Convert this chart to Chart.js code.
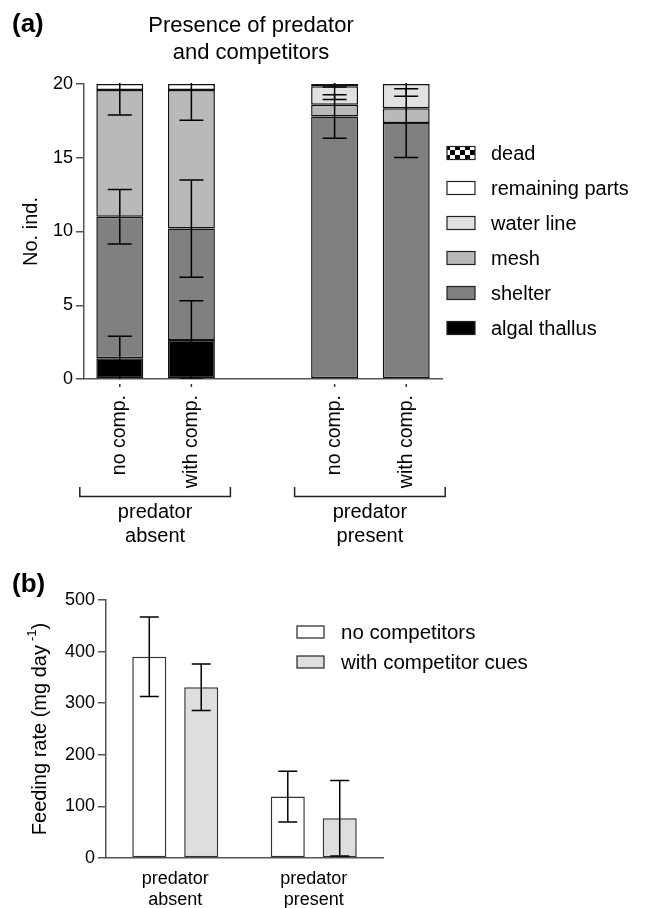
<!DOCTYPE html>
<html>
<head>
<meta charset="utf-8">
<script src="https://cdn.jsdelivr.net/npm/chart.js@4.4.1/dist/chart.umd.min.js"></script>
<style>
  html, body { margin: 0; padding: 0; background: #fff; }
  #wrap { position: relative; width: 648px; height: 908px; }
  #chartA { position: absolute; left: 0; top: 0; }
  #chartB { position: absolute; left: 0; top: 570px; }
</style>
</head>
<body>
<div id="wrap">
  <canvas id="chartA" width="648" height="570" style="width:648px;height:570px"></canvas>
  <canvas id="chartB" width="648" height="338" style="width:648px;height:338px"></canvas>
</div>
<script>
// ---- panel (a): fate of individuals (stacked) ----
const fateLabels = ['no comp.', 'with comp.', '', 'no comp.', 'with comp.'];
const fateGroups = [['predator', 'absent'], ['predator', 'present']];
const fateGroupIdx = [[0, 1], [3, 4]];
const fateTitle = ['Presence of predator', 'and competitors'];
const fateYTitle = 'No. ind.';

const algal = [1.4, 2.65, null, null, null];
const shelter = [9.6, 7.55, null, 17.8, 17.35];
const mesh = [8.6, 9.4, null, 0.8, 1.0];
const waterLine = [null, null, null, 1.25, 1.65];
const remaining = [0.4, 0.4, null, null, null];
const dead = [null, null, null, 0.15, null];

const algalErr = [1.5, 2.65, null, null, null];
const shelterErr = [1.85, 3.3, null, 1.47, 2.33];
const meshErr = [1.7, 2.05, null, null, null];
const waterErr = [null, null, null, 0.9, 0.83];
const remainingErr = [null, null, null, null, null];
const deadErr = [null, null, null, 0.2, null];

// ---- panel (b): feeding rate ----
const feedLabels = [['predator', 'absent'], ['predator', 'present']];
const noComp = [390, 119];
const noCompErr = [77, 49];
const withComp = [331, 77];
const withCompErr = [45, 73];
const feedYTitle = ['Feeding rate (mg day', '-1', ')'];

const FONT = '"Liberation Sans", Arial, Helvetica, sans-serif';

function checker() {
    const c = document.createElement('canvas');
    c.width = 10; c.height = 10;
    const g = c.getContext('2d');
    g.fillStyle = '#fff'; g.fillRect(0, 0, 10, 10);
    g.fillStyle = '#000'; g.fillRect(0, 0, 5, 5); g.fillRect(5, 5, 5, 5);
    return g.createPattern(c, 'repeat');
}
const deadFill = checker();

// error bars drawn at the top of each (stacked) segment, clipped to the plot
const errorBars = {
    id: 'errorBars',
    afterDatasetsDraw(chart, args, opts) {
        const {ctx, chartArea} = chart;
        const y = chart.scales.y;
        ctx.save();
        ctx.beginPath();
        ctx.rect(chartArea.left, chartArea.top - 1, chartArea.right - chartArea.left, chartArea.bottom - chartArea.top + 1);
        ctx.clip();
        ctx.strokeStyle = '#000';
        ctx.lineWidth = 1.5;
        chart.data.datasets.forEach((ds, d) => {
            const meta = chart.getDatasetMeta(d);
            ds.errors.forEach((e, i) => {
                if (!e || ds.data[i] == null) return;
                let top = ds.data[i];
                if (opts.stacked) {
                    top = 0;
                    for (let k = 0; k <= d; k++) top += chart.data.datasets[k].data[i] || 0;
                }
                const x = meta.data[i].x;
                const y1 = y.getPixelForValue(top - e);
                const y2 = y.getPixelForValue(top + e);
                const h = opts.cap / 2;
                ctx.beginPath();
                ctx.moveTo(x, y1); ctx.lineTo(x, y2);
                ctx.moveTo(x - h, y1); ctx.lineTo(x + h, y1);
                ctx.moveTo(x - h, y2); ctx.lineTo(x + h, y2);
                ctx.stroke();
            });
        });
        ctx.restore();
    }
};

function legendBox(ctx, x, yc, w, h, fill) {
    ctx.fillStyle = fill;
    ctx.fillRect(x, yc - h / 2, w, h);
    ctx.strokeStyle = '#222';
    ctx.lineWidth = 1.2;
    ctx.strokeRect(x, yc - h / 2, w, h);
}

const panelA = {
    id: 'panelA',
    afterDraw(chart) {
        const {ctx, chartArea} = chart;
        const x = chart.scales.x;
        ctx.save();
        ctx.fillStyle = '#000';
        ctx.textBaseline = 'alphabetic';
        ctx.textAlign = 'left';
        ctx.font = 'bold 26px ' + FONT;
        ctx.fillText('(a)', 12, 32);

        ctx.textAlign = 'center';
        ctx.font = '22px ' + FONT;
        fateTitle.forEach((t, k) => ctx.fillText(t, 251, 32 + k * 27));

        ctx.save();
        ctx.translate(31, (chartArea.top + chartArea.bottom) / 2);
        ctx.rotate(-Math.PI / 2);
        ctx.font = '20px ' + FONT;
        ctx.textBaseline = 'middle';
        ctx.fillText(fateYTitle, 0, 0);
        ctx.restore();

        // small tick dots under the bars
        ctx.strokeStyle = '#333';
        ctx.lineWidth = 1.5;
        fateLabels.forEach((l, i) => {
            if (!l) return;
            const px = x.getPixelForValue(i);
            ctx.beginPath();
            ctx.moveTo(px, chartArea.bottom + 5);
            ctx.lineTo(px, chartArea.bottom + 8);
            ctx.stroke();
        });

        // group brackets
        ctx.strokeStyle = '#222';
        ctx.font = '20px ' + FONT;
        ctx.textBaseline = 'alphabetic';
        fateGroupIdx.forEach((g, k) => {
            const l = x.getPixelForValue(g[0]) - 40;
            const r = x.getPixelForValue(g[1]) + 39;
            ctx.beginPath();
            ctx.moveTo(l, 487); ctx.lineTo(l, 496.5); ctx.lineTo(r, 496.5); ctx.lineTo(r, 487);
            ctx.stroke();
            const c = (l + r) / 2;
            fateGroups[k].forEach((t, j) => ctx.fillText(t, c, 518 + j * 24));
        });

        // legend, top to bottom
        ctx.textAlign = 'left';
        ctx.textBaseline = 'middle';
        const ds = chart.data.datasets.slice().reverse();
        ds.forEach((d, k) => {
            const yc = 153 + k * 35;
            legendBox(ctx, 447, yc, 28, 13, d.backgroundColor);
            ctx.fillStyle = '#000';
            ctx.fillText(d.label, 491, yc + 1);
        });
        ctx.restore();
    }
};

const barStyle = {borderColor: '#111', borderWidth: 1.5, borderSkipped: false};

new Chart(document.getElementById('chartA').getContext('2d'), {
    type: 'bar',
    data: {
        labels: fateLabels,
        datasets: [
            {label: 'algal thallus', data: algal, errors: algalErr, backgroundColor: '#000000', ...barStyle},
            {label: 'shelter', data: shelter, errors: shelterErr, backgroundColor: '#808080', ...barStyle},
            {label: 'mesh', data: mesh, errors: meshErr, backgroundColor: '#b9b9b9', ...barStyle},
            {label: 'water line', data: waterLine, errors: waterErr, backgroundColor: '#e1e1e1', ...barStyle},
            {label: 'remaining parts', data: remaining, errors: remainingErr, backgroundColor: '#ffffff', ...barStyle},
            {label: 'dead', data: dead, errors: deadErr, backgroundColor: deadFill, ...barStyle}
        ]
    },
    options: {
        responsive: false,
        animation: false,
        layout: {padding: {top: 84, right: 206, bottom: 0, left: 0}},
        datasets: {bar: {barPercentage: 0.656, categoryPercentage: 1.0}},
        plugins: {
            legend: {display: false},
            tooltip: {enabled: false},
            errorBars: {stacked: true, cap: 24}
        },
        scales: {
            x: {
                stacked: true,
                afterFit(s) { s.height = 191; },
                grid: {display: false, drawTicks: false},
                border: {display: true, color: '#555', width: 1.5},
                ticks: {
                    autoSkip: false, minRotation: 90, maxRotation: 90, padding: 16,
                    color: '#000', font: {family: FONT, size: 19.5}
                }
            },
            y: {
                stacked: true,
                min: 0, max: 20,
                afterFit(s) { s.width = 84; },
                grid: {display: true, drawOnChartArea: false, drawTicks: true, tickLength: 8, color: '#555', lineWidth: 1.5},
                border: {display: true, color: '#555', width: 1.5},
                ticks: {stepSize: 5, padding: 3, color: '#000', font: {family: FONT, size: 18}}
            }
        }
    },
    plugins: [errorBars, panelA]
});

const panelB = {
    id: 'panelB',
    afterDraw(chart) {
        const {ctx, chartArea} = chart;
        ctx.save();
        ctx.fillStyle = '#000';
        ctx.textAlign = 'left';
        ctx.textBaseline = 'alphabetic';
        ctx.font = 'bold 26px ' + FONT;
        ctx.fillText('(b)', 12, 22);

        // y title with superscript
        ctx.save();
        ctx.translate(40, (chartArea.top + chartArea.bottom) / 2);
        ctx.rotate(-Math.PI / 2);
        ctx.textBaseline = 'middle';
        const big = '20px ' + FONT, small = '13px ' + FONT;
        ctx.font = big;
        const w0 = ctx.measureText(feedYTitle[0]).width;
        const w2 = ctx.measureText(feedYTitle[2]).width;
        const gap = 4;
        ctx.font = small;
        const w1 = ctx.measureText(feedYTitle[1]).width;
        let px = -(w0 + gap + w1 + w2) / 2;
        ctx.font = big;
        ctx.fillText(feedYTitle[0], px, 0);
        px += w0 + gap;
        ctx.font = small;
        ctx.fillText(feedYTitle[1], px, -8);
        px += w1;
        ctx.font = big;
        ctx.fillText(feedYTitle[2], px, 0);
        ctx.restore();

        // legend
        ctx.textBaseline = 'middle';
        ctx.font = '20.5px ' + FONT;
        chart.data.datasets.forEach((d, k) => {
            const yc = 62 + k * 30;
            legendBox(ctx, 297, yc, 27, 12, d.backgroundColor);
            ctx.fillStyle = '#000';
            ctx.fillText(d.label, 341, yc + 1);
        });
        ctx.restore();
    }
};

new Chart(document.getElementById('chartB').getContext('2d'), {
    type: 'bar',
    data: {
        labels: feedLabels,
        datasets: [
            {label: 'no competitors', data: noComp, errors: noCompErr, backgroundColor: '#ffffff', borderColor: '#333', borderWidth: 1.5, borderSkipped: false},
            {label: 'with competitor cues', data: withComp, errors: withCompErr, backgroundColor: '#dedede', borderColor: '#333', borderWidth: 1.5, borderSkipped: false}
        ]
    },
    options: {
        responsive: false,
        animation: false,
        layout: {padding: {top: 30, right: 265, bottom: 0, left: 0}},
        datasets: {bar: {barPercentage: 0.655, categoryPercentage: 0.75}},
        plugins: {
            legend: {display: false},
            tooltip: {enabled: false},
            errorBars: {stacked: false, cap: 19}
        },
        scales: {
            x: {
                afterFit(s) { s.height = 50; },
                grid: {display: false, drawTicks: false},
                border: {display: true, color: '#555', width: 1.5},
                ticks: {padding: 10, color: '#000', font: {family: FONT, size: 18, lineHeight: 1.2}}
            },
            y: {
                min: 0, max: 500,
                afterFit(s) { s.width = 106; },
                grid: {display: true, drawOnChartArea: false, drawTicks: true, tickLength: 8, color: '#555', lineWidth: 1.5},
                border: {display: true, color: '#555', width: 1.5},
                ticks: {stepSize: 100, padding: 3, color: '#000', font: {family: FONT, size: 18}}
            }
        }
    },
    plugins: [errorBars, panelB]
});
</script>
</body>
</html>
